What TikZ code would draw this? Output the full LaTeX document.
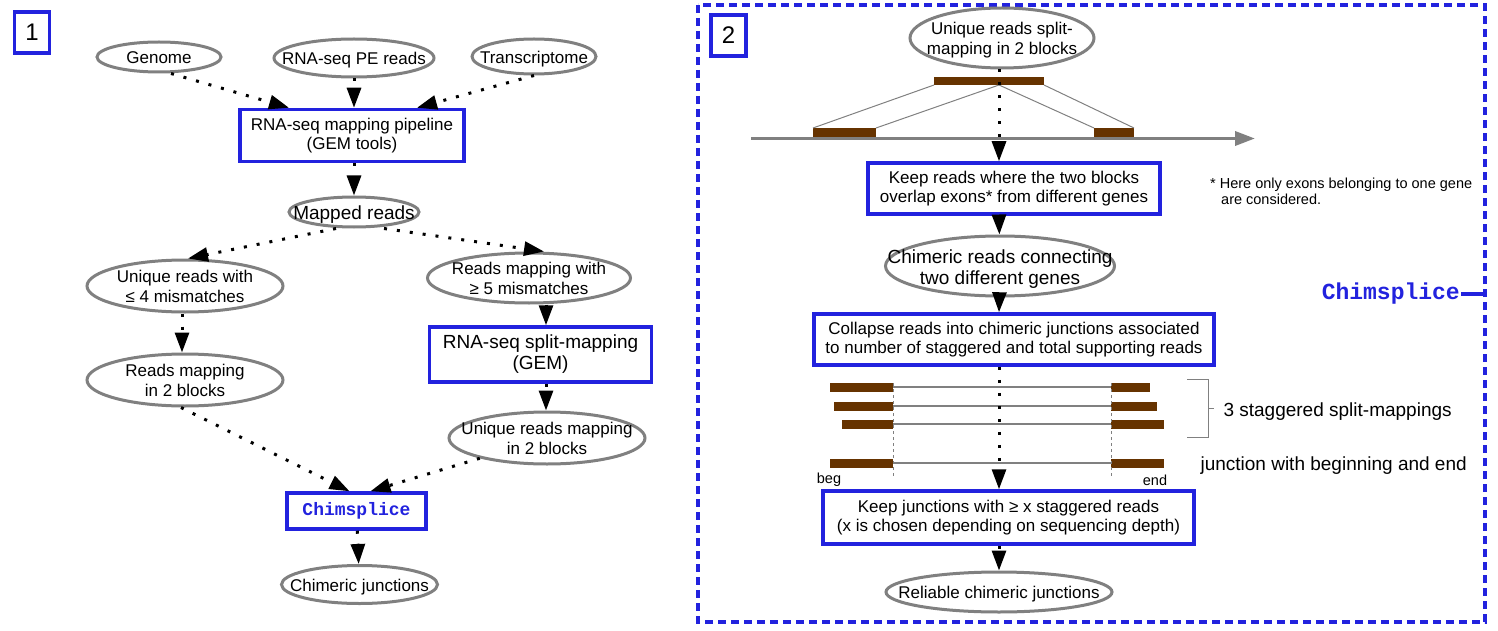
\documentclass[tikz,border=0pt]{standalone}
\usepackage{fontspec}
\setmainfont{Liberation Sans}
\setmonofont{Liberation Mono}
\usetikzlibrary{shapes.geometric,arrows.meta}

\definecolor{stepblue}{RGB}{34,34,222}
\definecolor{ovalgray}{RGB}{128,128,128}
\definecolor{readbrown}{RGB}{102,51,0}

% text of an oval keeps no size, so the oval keeps its own
\newcommand{\ovaltext}[1]{\makebox[0pt]{\raisebox{-.42em}[0pt][0pt]{\begin{tabular}{@{}c@{}}#1\end{tabular}}}}

\tikzset{
	oval/.style={ellipse, draw=ovalgray, line width=3pt, inner sep=0pt, font=\fontsize{17}{19.5}\selectfont},
	stepbox/.style={rectangle, draw=stepblue, line width=3.5pt, inner sep=0pt, align=center, font=\fontsize{17}{19.5}\selectfont},
	numbox/.style={stepbox, minimum width=35pt, minimum height=41pt, font=\fontsize{24}{26}\selectfont},
	chimtext/.style={text=stepblue, font=\fontsize{18}{20}\selectfont\ttfamily\bfseries},
	flow/.style={line width=3pt, dash pattern=on 3pt off 10pt, -{Triangle[length=20pt,width=14pt]}},
	bigtext/.style={font=\fontsize{19}{21}\selectfont},
	smalltext/.style={font=\fontsize{14.5}{16}\selectfont},
}

\begin{document}
\begin{tikzpicture}[x=1pt, y=-1pt]
	\useasboundingbox (0,0) rectangle (1498,631);
	
	% panel 1
	\node[numbox] (one) at (32,32.5) {1};
	\node[oval, minimum width=124pt, minimum height=30pt] (genome) at (159,57) {\ovaltext{Genome}};
	\node[oval, minimum width=160pt, minimum height=38pt] (pe) at (354,58) {\ovaltext{RNA-seq PE reads}};
	\node[oval, minimum width=124pt, minimum height=35pt] (transcr) at (534,56.5) {\ovaltext{Transcriptome}};
	\node[stepbox, minimum width=224pt, minimum height=52pt] (pipeline) at (352,135.5) {RNA-seq mapping pipeline\\(GEM tools)};
	\node[oval, bigtext, minimum width=130pt, minimum height=30pt] (mapped) at (354,212) {\ovaltext{Mapped reads}};
	\node[oval, minimum width=196pt, minimum height=52pt] (uniqfour) at (185,286) {\ovaltext{Unique reads with\\≤ 4 mismatches}};
	\node[oval, minimum width=203pt, minimum height=50pt] (mmfive) at (529,278) {\ovaltext{Reads mapping with\\≥ 5 mismatches}};
	\node[stepbox, bigtext, minimum width=222pt, minimum height=55pt] (splitmap) at (540.5,354.5) {RNA-seq split-mapping\\(GEM)};
	\node[oval, minimum width=196pt, minimum height=52pt] (blocksL) at (185,380) {\ovaltext{Reads mapping\\in 2 blocks}};
	\node[oval, minimum width=196pt, minimum height=52pt] (blocksR) at (547,438) {\ovaltext{Unique reads mapping\\in 2 blocks}};
	\node[stepbox, chimtext, minimum width=139pt, minimum height=36pt] (chimL) at (356.5,511) {Chimsplice};
	\node[oval, minimum width=156pt, minimum height=38pt] (junctions) at (359.5,584.5) {\ovaltext{Chimeric junctions}};
	
	% flow of panel 1
	\draw[flow] ([xshift=12pt]genome.south) -- ([xshift=-63pt]pipeline.north);
	\draw[flow] (pe) -- ([xshift=2pt]pipeline.north);
	\draw[flow] (transcr.south) -- ([xshift=65pt]pipeline.north);
	\draw[flow] ([xshift=2pt]pipeline.south) -- (mapped);
	\draw[flow] ([xshift=-18pt]mapped.south) -- ([xshift=3pt]uniqfour.north);
	\draw[flow] ([xshift=30pt]mapped.south) -- ([xshift=15pt]mmfive.north);
	\draw[flow] ([xshift=-3pt]uniqfour.south) -- ([xshift=-3pt]blocksL.north);
	\draw[flow] ([xshift=17pt]mmfive.south) -- ([xshift=5.5pt]splitmap.north);
	\draw[flow] ([xshift=5.5pt]splitmap.south) -- ([xshift=-1pt]blocksR.north);
	\draw[flow] ([xshift=-4pt]blocksL.south) -- ([xshift=-7pt]chimL.north);
	\draw[flow] (blocksR) -- ([xshift=14pt]chimL.north);
	\draw[flow] (chimL) -- (junctions);
	
	% panel 2 frame
	\draw[stepblue, line width=3.5pt, dash pattern=on 8pt off 5pt] (698,5) rectangle (1485,622);
	\node[numbox] (two) at (728.5,35.5) {2};
	\node[chimtext, font=\fontsize{23}{25}\selectfont\ttfamily\bfseries, anchor=east, inner sep=1pt] (chimR) at (1461,294) {Chimsplice};
	\coordinate (frameR) at (1485,294);
	\draw[stepblue, line width=3.5pt] (chimR) -- (frameR);
	
	% split read over two exons
	\node[oval, minimum width=184pt, minimum height=60pt] (splitread) at (1002,38) {\ovaltext{Unique reads split-\\mapping in 2 blocks}};
	\draw[ovalgray, line width=3.5pt, -{Triangle[length=20pt,width=14pt]}] (751,138.5) -- (1255,138.5);
	\fill[readbrown] (934,77) rectangle (1044,85);
	\fill[readbrown] (813,128) rectangle (876,137);
	\fill[readbrown] (1094,128) rectangle (1134,137);
	\draw[ovalgray, line width=1pt] (934,85) -- (813,128);
	\draw[ovalgray, line width=1pt] (999,85) -- (876,128);
	\draw[ovalgray, line width=1pt] (999,85) -- (1094,128);
	\draw[ovalgray, line width=1pt] (1044,85) -- (1134,128);
	
	\node[stepbox, minimum width=292pt, minimum height=51pt] (keepreads) at (1014,188.5) {Keep reads where the two blocks\\overlap exons* from different genes};
	\node[smalltext, anchor=north west, align=left, inner sep=0pt] (note) at (1210,178) {* Here only exons belonging to one gene\\\hspace*{11pt}are considered.};
	\node[oval, bigtext, minimum width=229pt, minimum height=60pt] (chimreads) at (1000,266) {\ovaltext{Chimeric reads connecting\\two different genes}};
	\node[stepbox, minimum width=400pt, minimum height=51pt] (collapse) at (1014,339.5) {Collapse reads into chimeric junctions associated\\to number of staggered and total supporting reads};
	
	% staggered split-mappings
	\foreach \y/\l/\r in {387/830/1150, 406/834/1157, 424/842/1164, 463/830/1164} {
		\draw[ovalgray, line width=1.5pt] (893,\y) -- (1111,\y);
		\fill[readbrown] (\l,\y-4.5) rectangle (893,\y+4.5);
		\fill[readbrown] (1111,\y-4.5) rectangle (\r,\y+4.5);
	}
	\draw[ovalgray, line width=0.6pt, dashed] (893,383) -- (893,478);
	\draw[ovalgray, line width=0.6pt, dashed] (1111,383) -- (1111,478);
	\node[smalltext] (beg) at (829,480) {beg};
	\node[smalltext] (endlbl) at (1155,480) {end};
	\draw[ovalgray, line width=1pt] (1187,379) -- (1208,379) -- (1208,437) -- (1187,437);
	\draw[ovalgray, line width=1pt] (1208,408) -- (1214,408);
	\node[bigtext, anchor=west] (stagger) at (1220,412) {3 staggered split-mappings};
	\node[bigtext, anchor=west] (junclbl) at (1197,466) {junction with beginning and end};
	
	\node[stepbox, minimum width=371pt, minimum height=53pt] (keepjunc) at (1008.5,517.5) {Keep junctions with ≥ x staggered reads\\(x is chosen depending on sequencing depth)};
	\node[oval, minimum width=226pt, minimum height=40pt] (reliable) at (999,592) {\ovaltext{Reliable chimeric junctions}};
	
	% flow of panel 2
	\draw[flow] ([xshift=-3pt]splitread.south) -- ([xshift=-15pt]keepreads.north);
	\draw[flow] ([xshift=-15pt]keepreads.south) -- (chimreads);
	\draw[flow] (chimreads) -- ([xshift=-15pt]collapse.north);
	\draw[flow] ([xshift=-15pt]collapse.south) -- ([xshift=-9.5pt]keepjunc.north);
	\draw[flow] ([xshift=-9.5pt]keepjunc.south) -- (reliable);
\end{tikzpicture}
\end{document}
